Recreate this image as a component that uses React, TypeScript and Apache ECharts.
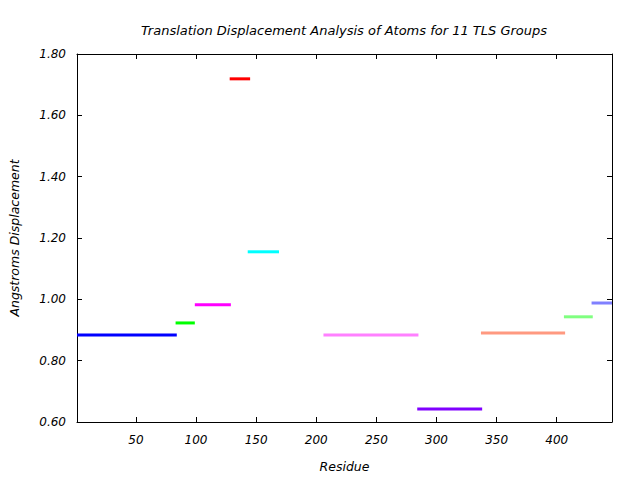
import React, { useEffect, useRef } from "react";
import * as echarts from "echarts";

const groupStarts = [1, 83, 99, 128, 143, 206, 284, 337, 406, 429];
const groupEnds = [84, 99, 129, 145, 169, 285, 338, 407, 430, 446];
const groupValues = [0.884, 0.923, 0.982, 1.719, 1.155, 0.884, 0.642, 0.89, 0.943, 0.988];
const groupColors = [
  "#0000ff",
  "#00ff00",
  "#ff00ff",
  "#ff0000",
  "#00ffff",
  "#ff80ff",
  "#8000ff",
  "#ff9980",
  "#80ff80",
  "#8080ff",
];
const xTicks = [50, 100, 150, 200, 250, 300, 350, 400];
const yTicks = [0.6, 0.8, 1.0, 1.2, 1.4, 1.6, 1.8];

const FONT = "DejaVu Sans";

export default function App() {
  const ref = useRef<HTMLDivElement>(null);
  useEffect(() => {
    if (!ref.current) return;
    document.body.style.margin = "0";
    const chart = echarts.init(ref.current, null, { renderer: "svg" });
    const axisLine = { show: true, lineStyle: { color: "#000", width: 1 } };
    const tickStyle = { show: true, inside: true, length: 5, lineStyle: { color: "#000" } };
    const labelStyle = { fontFamily: FONT, fontStyle: "italic", fontSize: 12, color: "#000" };
    chart.setOption({
      animation: false,
      backgroundColor: "#fff",
      title: {
        text: "Translation Displacement Analysis of Atoms for 11 TLS Groups",
        left: 339,
        top: 19,
        textAlign: "center",
        textStyle: { fontFamily: FONT, fontStyle: "italic", fontWeight: "normal", fontSize: 13, color: "#000" },
      },
      grid: { left: 76, right: 28, top: 54, bottom: 58, containLabel: false },
      xAxis: [
        {
          type: "value",
          min: 1,
          max: 446,
          position: "bottom",
          name: "Residue",
          nameLocation: "middle",
          nameGap: 38,
          nameTextStyle: { ...labelStyle, fontSize: 12.5 },
          axisLine,
          axisTick: { ...tickStyle, customValues: xTicks },
          axisLabel: { ...labelStyle, margin: 12, customValues: xTicks },
          splitLine: { show: false },
        },
        {
          type: "value",
          min: 1,
          max: 446,
          position: "top",
          axisLine,
          axisTick: { ...tickStyle, customValues: xTicks },
          axisLabel: { show: false },
          splitLine: { show: false },
        },
      ],
      yAxis: [
        {
          type: "value",
          min: 0.6,
          max: 1.8,
          position: "left",
          name: "Angstroms Displacement",
          nameLocation: "middle",
          nameGap: 56,
          nameTextStyle: { ...labelStyle, fontSize: 12.5 },
          axisLine,
          axisTick: { ...tickStyle, customValues: yTicks },
          axisLabel: {
            ...labelStyle,
            margin: 11,
            customValues: yTicks,
            formatter: (v: number) => v.toFixed(2),
          },
          splitLine: { show: false },
        },
        {
          type: "value",
          min: 0.6,
          max: 1.8,
          position: "right",
          axisLine,
          axisTick: { ...tickStyle, customValues: yTicks },
          axisLabel: { show: false },
          splitLine: { show: false },
        },
      ],
      series: groupValues.map((v, i) => ({
        type: "line",
        xAxisIndex: 0,
        yAxisIndex: 0,
        data: [
          [groupStarts[i], v],
          [groupEnds[i], v],
        ],
        showSymbol: false,
        symbol: "none",
        clip: false,
        lineStyle: { color: groupColors[i], width: 3 },
        itemStyle: { color: groupColors[i] },
      })),
    });
    return () => chart.dispose();
  }, []);
  return <div ref={ref} style={{ width: 640, height: 480 }} />;
}
